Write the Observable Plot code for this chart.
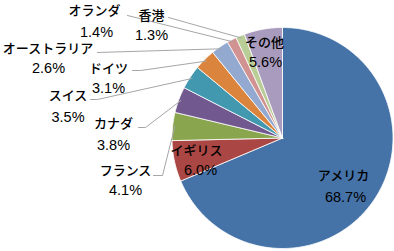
<!DOCTYPE html>
<html><head><meta charset="utf-8">
<script src="https://cdn.jsdelivr.net/npm/d3@7"></script>
<script src="https://cdn.jsdelivr.net/npm/@observablehq/plot@0.6"></script>
<style>body{margin:0;background:#fff}</style>
</head><body><div id="chart"></div>
<script>
// data
const countries = ["アメリカ","イギリス","フランス","カナダ","スイス","ドイツ","オーストラリア","オランダ","香港","その他"];
const shares = [68.7, 6.0, 4.1, 3.8, 3.5, 3.1, 2.6, 1.4, 1.3, 5.6];
const colors = ["#4572A7","#AA4643","#89A54E","#71588F","#4198AF","#DB843D","#93A9CF","#D19392","#B9CD96","#A99BBD"];

// layout (pixel positions of the pie, label lines and leader starts)
const W = 394, H = 251, CX = 282, CY = 137.5, R = 110.5;
const namePos = [[343,175],[196,150],[125,170],[113,123],[67.5,95],[108,68],[47.5,48],[94,10],[151,15],[264,42]];
const pctPos  = [[345,197],[200,170],[125,190],[113,145],[67.5,117],[108,88],[48,68],[96,32],[151,35],[265,62]];
const leaderStarts = [null, null, [[153,175],[162,175]], [[138,127],[145,127]], [[90,99],[97,99]], [[132,70],[140,70]], [[97,52]], [[127,15]], [[168,17]], null];

const toX = px => px - CX, toY = py => CY - py;

const arcs = d3.pie().sort(null).value(d => d.share)(countries.map((name, i) => ({name, share: shares[i]})));

const slicePts = [];
arcs.forEach(a => {
  const n = Math.max(2, Math.ceil((a.endAngle - a.startAngle) / (Math.PI / 180)));
  slicePts.push({name: a.data.name, x: 0, y: 0});
  for (let k = 0; k <= n; k++) {
    const t = a.startAngle + (a.endAngle - a.startAngle) * k / n;
    slicePts.push({name: a.data.name, x: R * Math.sin(t), y: R * Math.cos(t)});
  }
  slicePts.push({name: a.data.name, x: 0, y: 0});
});

const leaders = [];
arcs.forEach((a, i) => {
  const s = leaderStarts[i];
  if (!s) return;
  s.forEach(([px, py]) => leaders.push({name: a.data.name, x: toX(px), y: toY(py)}));
  const m = (a.startAngle + a.endAngle) / 2;
  leaders.push({name: a.data.name, x: R * 0.98 * Math.sin(m), y: R * 0.98 * Math.cos(m)});
});

const nameLabels = arcs.map((a, i) => ({text: a.data.name, x: toX(namePos[i][0]), y: toY(namePos[i][1])}));
const pctLabels = arcs.map((a, i) => ({text: a.data.share.toFixed(1) + "%", x: toX(pctPos[i][0]), y: toY(pctPos[i][1])}));

const chart = Plot.plot({
  width: W, height: H, margin: 0,
  style: {fontFamily: "'Noto Sans CJK JP', sans-serif", background: "#fff", color: "#000"},
  x: {domain: [-CX, W - CX], axis: null},
  y: {domain: [CY - H, CY], axis: null},
  color: {domain: countries, range: colors},
  marks: [
    Plot.line(slicePts, {x: "x", y: "y", z: "name", fill: "name", stroke: "white", strokeWidth: 0.8, curve: "linear"}),
    Plot.line(leaders, {x: "x", y: "y", z: "name", stroke: "#a6a6a6", strokeWidth: 1, curve: "linear"}),
    Plot.text(nameLabels, {x: "x", y: "y", text: "text", fontSize: 13, fontWeight: 500, fill: "#000"}),
    Plot.text(pctLabels, {x: "x", y: "y", text: "text", fontSize: 14.5, fill: "#000",
      fontFamily: "'Liberation Sans', sans-serif"})
  ]
});
document.getElementById("chart").appendChild(chart);
</script>
</body></html>
